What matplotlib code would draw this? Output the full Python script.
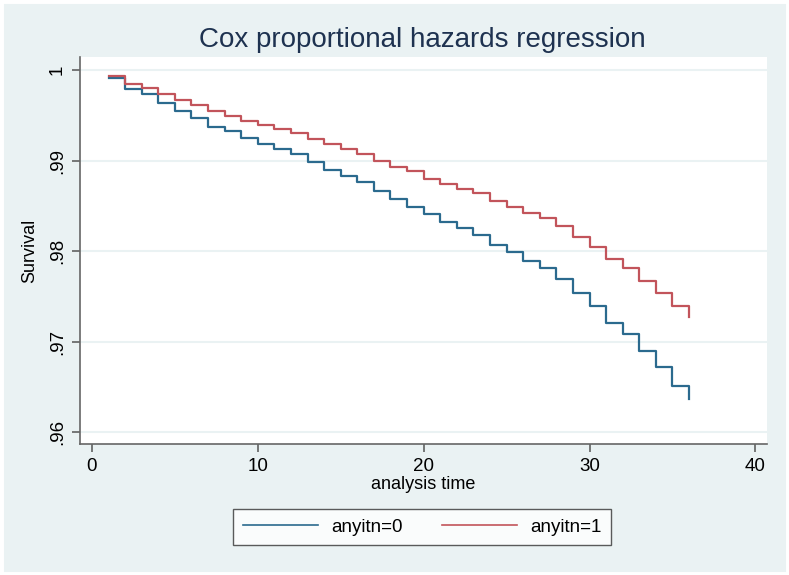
import numpy as np
import matplotlib.pyplot as plt
from matplotlib.patches import Rectangle

plt.rcParams['font.family'] = ['Liberation Sans', 'DejaVu Sans']

# failure times and predicted survival by group
time = list(range(1, 37))
surv0 = [0.9991, 0.9979, 0.9973, 0.9964, 0.9955, 0.9947, 0.9937, 0.9933, 0.9925, 0.9918,
         0.9913, 0.9907, 0.9898, 0.9890, 0.9883, 0.9876, 0.9866, 0.9857, 0.9849, 0.9841,
         0.9832, 0.9826, 0.9818, 0.9807, 0.9799, 0.9789, 0.9781, 0.9769, 0.9754, 0.9739,
         0.9721, 0.9708, 0.9689, 0.9672, 0.9651, 0.9636]
surv1 = [0.9993, 0.9985, 0.9980, 0.9974, 0.9967, 0.9961, 0.9955, 0.9949, 0.9944, 0.9939,
         0.9935, 0.9930, 0.9924, 0.9918, 0.9913, 0.9907, 0.9899, 0.9893, 0.9888, 0.9880,
         0.9874, 0.9869, 0.9864, 0.9855, 0.9849, 0.9842, 0.9836, 0.9828, 0.9816, 0.9805,
         0.9791, 0.9781, 0.9767, 0.9754, 0.9739, 0.9727]
labels = ["anyitn=0", "anyitn=1"]
xticks = [0, 10, 20, 30, 40]
yticks = [0.96, 0.97, 0.98, 0.99, 1.0]
ytick_labels = [".96", ".97", ".98", ".99", "1"]

bg = "#eaf2f3"
fig = plt.figure(figsize=(7.89, 5.75), dpi=100, facecolor=bg)
fig.patches.append(Rectangle((0, 0), 1, 1, transform=fig.transFigure,
                             fill=False, edgecolor="white", lw=5))
ax = fig.add_axes([0.1014, 0.2278, 0.8707, 0.673])
ax.set_facecolor("white")

ax.plot(time, surv0, drawstyle="steps-post", color="#2b6a8e", lw=1.6, label=labels[0])
ax.plot(time, surv1, drawstyle="steps-post", color="#c2545b", lw=1.6, label=labels[1])

ax.set_xlim(-0.72, 40.7)
ax.set_ylim(0.95867, 1.00144)
ax.set_xticks(xticks)
ax.set_yticks(yticks)
ax.set_yticklabels(ytick_labels, rotation=90, va="center")
ax.tick_params(axis="both", labelsize=13.5, direction="out", length=6,
               width=1.1, color="#555555", labelcolor="black", pad=4)
ax.grid(axis="y", color=bg, lw=1.5)
ax.set_axisbelow(True)
for s in ["top", "right"]:
    ax.spines[s].set_visible(False)
for s in ["left", "bottom"]:
    ax.spines[s].set_color("#666666")
    ax.spines[s].set_linewidth(1.2)

ax.set_ylabel("Survival", fontsize=13, labelpad=8)
ax.set_xlabel("analysis time", fontsize=13, labelpad=1)
fig.text(0.535, 0.930, "Cox proportional hazards regression", ha="center", va="center",
         fontsize=20, color="#1e3250")

leg = fig.legend(loc="center", bbox_to_anchor=(0.535, 0.0835), ncol=2, fontsize=13.5,
                 frameon=True, fancybox=False, handlelength=4.0, columnspacing=2.1,
                 handletextpad=0.7, borderpad=0.5, borderaxespad=0)
leg.get_frame().set_edgecolor("#333333")
leg.get_frame().set_linewidth(1.0)
for line in leg.get_lines():
    line.set_linewidth(1.2)

fig.savefig("out.png", dpi=100, facecolor=bg)
